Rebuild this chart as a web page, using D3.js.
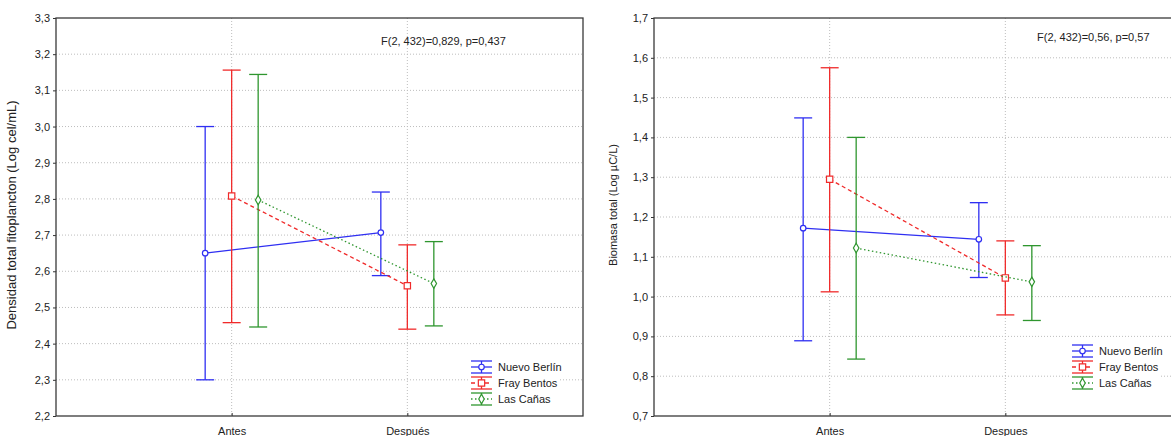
<!DOCTYPE html>
<html>
<head>
<meta charset="utf-8">
<script src="https://cdn.jsdelivr.net/npm/d3@7/dist/d3.min.js"></script>
<style>
  html, body { margin: 0; padding: 0; background: #fff; }
  svg { display: block; font-family: "Liberation Sans", Arial, sans-serif; }
</style>
</head>
<body>
<svg id="chart" width="1171" height="436"></svg>
<script>
// Sampling periods and sites
const categories = ["Antes", "Después"];
const categoriesRight = ["Antes", "Despues"];
const sites = ["Nuevo Berlín", "Fray Bentos", "Las Cañas"];

// Total phytoplankton density (Log cel/mL): mean and 95% CI limits per site
const densityMean = [[2.650, 2.707], [2.808, 2.560], [2.797, 2.566]];
const densityLow  = [[2.300, 2.588], [2.458, 2.440], [2.446, 2.449]];
const densityHigh = [[3.000, 2.819], [3.156, 2.673], [3.144, 2.682]];
const densityTicks = [2.2, 2.3, 2.4, 2.5, 2.6, 2.7, 2.8, 2.9, 3.0, 3.1, 3.2, 3.3];

// Total biomass (Log µC/L): mean and 95% CI limits per site
const biomassMean = [[1.172, 1.144], [1.295, 1.047], [1.122, 1.037]];
const biomassLow  = [[0.889, 1.048], [1.012, 0.954], [0.843, 0.940]];
const biomassHigh = [[1.449, 1.236], [1.575, 1.140], [1.400, 1.128]];
const biomassTicks = [0.7, 0.8, 0.9, 1.0, 1.1, 1.2, 1.3, 1.4, 1.5, 1.6, 1.7];

const seriesColor = ["#2f2ff2", "#f02a2a", "#2f962f"];
const seriesDash = [null, "4,3", "1.5,2.5"];
const seriesShape = [d3.symbolCircle, d3.symbolSquare, d3.symbolDiamond];
const seriesSize = [24, 40, 26];
const seriesOffset = [-26.5, 0, 26.5];

const fmt = v => d3.format(".1f")(v).replace(".", ",");
const svg = d3.select("#chart");

function drawPanel(cfg) {
  const g = svg.append("g").attr("transform", `translate(${cfg.left},${cfg.top})`);
  const W = cfg.width, H = cfg.height;
  const x = d3.scalePoint().domain(cfg.cats).range([0, W]).padding(1);
  const y = d3.scaleLinear().domain([cfg.ticks[0], cfg.ticks[cfg.ticks.length - 1]]).range([H, 0]);

  // grid
  g.append("g").selectAll("line.h").data(cfg.ticks.slice(1, -1)).join("line")
    .attr("x1", 0).attr("x2", W).attr("y1", d => y(d)).attr("y2", d => y(d))
    .attr("stroke", "#bdbdbd").attr("stroke-dasharray", "1,2");
  g.append("g").selectAll("line.v").data(cfg.cats).join("line")
    .attr("x1", d => x(d)).attr("x2", d => x(d)).attr("y1", 0).attr("y2", H)
    .attr("stroke", "#bdbdbd").attr("stroke-dasharray", "1,2");

  // y axis labels with small outward ticks
  const yAxis = d3.axisLeft(y).tickValues(cfg.ticks).tickFormat(fmt).tickSize(3).tickPadding(3);
  const ya = g.append("g").call(yAxis);
  ya.select(".domain").remove();
  ya.selectAll("line").attr("stroke", "#333");
  ya.selectAll("text").attr("font-size", 11).attr("fill", "#222")
    .attr("font-family", "'Liberation Sans', Arial, sans-serif");

  // x axis labels
  const xAxis = d3.axisBottom(x).tickSize(3).tickPadding(8);
  const xa = g.append("g").attr("transform", `translate(0,${H})`).call(xAxis);
  xa.select(".domain").remove();
  xa.selectAll("line").attr("stroke", "#333").attr("y2", -3);
  xa.selectAll("text").attr("font-size", 11).attr("fill", "#222")
    .attr("font-family", "'Liberation Sans', Arial, sans-serif");

  // frame
  g.append("rect").attr("x", 0).attr("y", 0).attr("width", W).attr("height", H)
    .attr("fill", "none").attr("stroke", "#3a3a3a").attr("stroke-width", 1.3);

  // y title
  g.append("text")
    .attr("transform", `translate(${cfg.titleX},${cfg.titleY}) rotate(-90)`)
    .attr("text-anchor", "middle").attr("font-size", cfg.titleSize).attr("fill", "#222")
    .text(cfg.title);

  // statistic annotation
  g.append("text").attr("x", cfg.statX).attr("y", cfg.statY)
    .attr("font-size", 11).attr("fill", "#222").text(cfg.stat);

  // series
  sites.forEach((s, i) => {
    const col = seriesColor[i];
    const pts = cfg.cats.map((c, j) => ({
      x: x(c) + seriesOffset[i], m: cfg.mean[i][j], lo: cfg.low[i][j], hi: cfg.high[i][j]
    }));
    const sg = g.append("g");
    sg.append("path").datum(pts)
      .attr("d", d3.line().x(d => d.x).y(d => y(d.m)))
      .attr("fill", "none").attr("stroke", col).attr("stroke-width", 1.3)
      .attr("stroke-dasharray", seriesDash[i]);
    pts.forEach(p => {
      sg.append("line").attr("x1", p.x).attr("x2", p.x).attr("y1", y(p.lo)).attr("y2", y(p.hi))
        .attr("stroke", col).attr("stroke-width", 1.3);
      [p.lo, p.hi].forEach(v => {
        sg.append("line").attr("x1", p.x - 9).attr("x2", p.x + 9).attr("y1", y(v)).attr("y2", y(v))
          .attr("stroke", col).attr("stroke-width", 1.3);
      });
      sg.append("path").attr("transform", `translate(${p.x},${y(p.m)})`)
        .attr("d", d3.symbol().type(seriesShape[i]).size(seriesSize[i])())
        .attr("fill", "#fff").attr("stroke", col).attr("stroke-width", 1.2);
    });
  });

  // legend
  const lg = g.append("g").attr("transform", `translate(${cfg.legX},${cfg.legY})`);
  sites.forEach((s, i) => {
    const col = seriesColor[i];
    const row = lg.append("g").attr("transform", `translate(0,${i * 16})`);
    row.append("rect").attr("x", -2).attr("y", -8).attr("width", 90).attr("height", 15).attr("fill", "#fff");
    row.append("line").attr("x1", 0).attr("x2", 21).attr("y1", -6).attr("y2", -6).attr("stroke", col).attr("stroke-width", 1.3);
    row.append("line").attr("x1", 0).attr("x2", 21).attr("y1", 6).attr("y2", 6).attr("stroke", col).attr("stroke-width", 1.3);
    row.append("line").attr("x1", 10.5).attr("x2", 10.5).attr("y1", -6).attr("y2", 6).attr("stroke", col).attr("stroke-width", 1.3);
    row.append("line").attr("x1", 0).attr("x2", 21).attr("y1", 0).attr("y2", 0).attr("stroke", col)
      .attr("stroke-width", 1.3).attr("stroke-dasharray", seriesDash[i]);
    row.append("path").attr("transform", "translate(10.5,0)")
      .attr("d", d3.symbol().type(seriesShape[i]).size(seriesSize[i])())
      .attr("fill", "#fff").attr("stroke", col).attr("stroke-width", 1.2);
    row.append("text").attr("x", 27).attr("y", 4).attr("font-size", 11).attr("fill", "#222").text(s);
  });
}

drawPanel({
  left: 56, top: 18, width: 527, height: 398,
  cats: categories, ticks: densityTicks,
  mean: densityMean, low: densityLow, high: densityHigh,
  title: "Densidad total fitoplancton (Log cel/mL)", titleX: -40, titleY: 197, titleSize: 13,
  stat: "F(2, 432)=0,829, p=0,437", statX: 325, statY: 27,
  legX: 415, legY: 349
});

drawPanel({
  left: 654, top: 18, width: 527, height: 398,
  cats: categoriesRight, ticks: biomassTicks,
  mean: biomassMean, low: biomassLow, high: biomassHigh,
  title: "Biomasa total (Log µC/L)", titleX: -37, titleY: 187, titleSize: 11,
  stat: "F(2, 432)=0,56, p=0,57", statX: 383, statY: 23,
  legX: 418, legY: 333
});
</script>
</body>
</html>
